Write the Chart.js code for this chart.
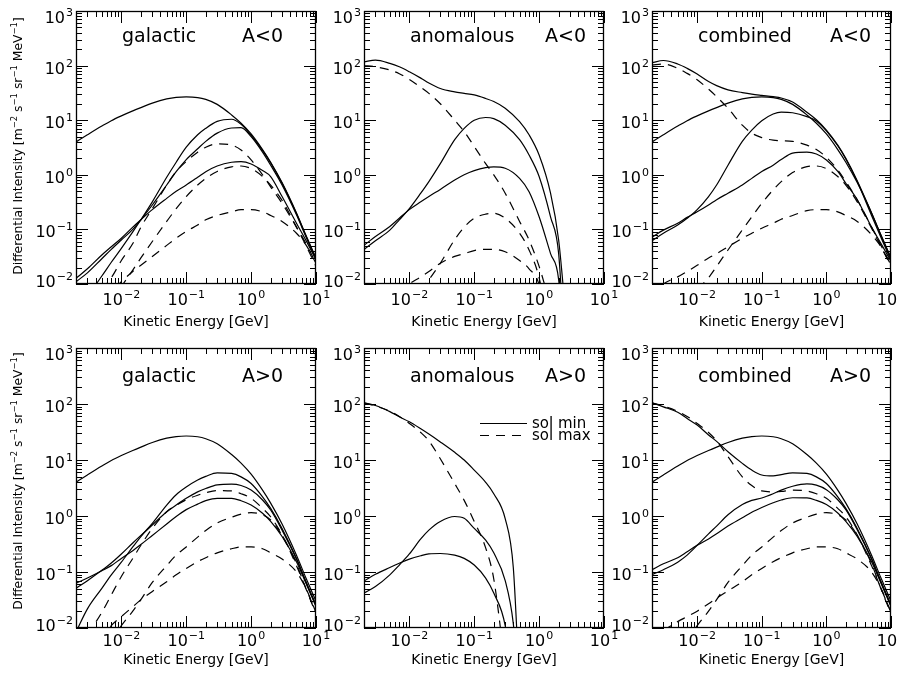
<!DOCTYPE html>
<html>
<head>
<meta charset="utf-8">
<script src="https://cdn.jsdelivr.net/npm/chart.js@4.4.0/dist/chart.umd.min.js"></script>
<style>
html, body { margin: 0; padding: 0; background: #ffffff; }
#wrap { position: relative; width: 897px; height: 673px; overflow: hidden; background: #ffffff; }
#wrap canvas { position: absolute; left: 0; top: 0; }
</style>
</head>
<body>
<div id="wrap"></div>
<script>
// ---------------- DATA ----------------
const _ = null;
// kinetic energy grid [GeV]
const energyGeV = [0.002, 0.003, 0.005, 0.007, 0.01, 0.015, 0.02, 0.03, 0.05, 0.07, 0.1, 0.15, 0.2, 0.3, 0.4, 0.5, 0.7, 1, 1.5, 2, 2.5, 3, 5, 7, 10];

// axis ranges and tick exponents
const energyAxisRange = [0.002, 10];
const intensityAxisRange = [0.01, 1000];
const energyTickExponents = [-2, -1, 0, 1];
const intensityTickExponents = [-2, -1, 0, 1, 2, 3];

// galactic local interstellar spectrum (solid, shown in galactic & combined panels)
const lisIntensity = [4.0, 5.4, 7.8, 9.8, 12, 14.8, 17, 20.5, 24.5, 26.2, 26.8, 26, 24, 19.5, _, 12.5, 8.8, 5.6, 2.9, 1.7, _, 0.72, 0.2, 0.078, 0.03];

// galactic, A<0
const galNegMin1 = [0.0035, 0.006, 0.014, 0.025, 0.045, 0.09, 0.15, 0.32, 0.9, 1.7, 3.2, 5.4, 7.1, 9.5, _, 10.4, 8.4, 5.3, 2.8, 1.65, _, 0.7, 0.195, 0.076, 0.029];
const galNegMin2 = [0.011, 0.016, 0.029, 0.043, 0.064, 0.1, 0.15, 0.28, 0.65, 1.14, 1.9, 3.0, 4.1, 5.8, _, 7.2, 7.3, 5.0, 2.6, 1.5, _, 0.65, 0.185, 0.073, 0.028];
const galNegMin3 = [0.0127, 0.019, 0.034, 0.048, 0.069, 0.11, 0.15, 0.23, 0.37, 0.5, 0.65, 0.9, 1.14, 1.45, _, 1.7, 1.74, 1.58, 1.2, 0.93, _, 0.4, 0.13, 0.063, 0.028];
const galNegMax1 = [_, _, 0.008, 0.013, 0.027, 0.055, 0.11, 0.24, 0.65, 1.15, 1.75, 2.6, 3.2, 3.7, _, 3.5, 2.85, 1.87, 1.0, 0.6, _, 0.3, 0.11, 0.055, 0.024];
const galNegMax2 = [_, _, _, 0.005, 0.009, 0.018, 0.03, 0.06, 0.14, 0.24, 0.40, 0.65, 0.86, 1.15, _, 1.4, 1.45, 1.3, 0.93, 0.65, _, 0.34, 0.11, 0.051, 0.021];
const galNegMax3 = [_, _, 0.006, 0.0075, 0.011, 0.017, 0.022, 0.032, 0.051, 0.069, 0.092, 0.12, 0.15, 0.18, _, 0.21, 0.23, 0.23, 0.21, 0.18, _, 0.14, 0.085, 0.052, 0.024];

// anomalous, A<0
const anoNegMin0 = [117, 126, 110, 95, 77, 59, 48, 38, 33, 31, 29, 25, 22, 16.6, _, 9.4, 5.4, 2.3, 0.46, 0.064, 0.004, _, _, _, _];
const anoNegMin1 = [0.043, 0.062, 0.097, 0.15, 0.24, 0.46, 0.75, 1.6, 4.4, 7.1, 10, 11.2, 10.7, 8.1, _, 4.4, 2.3, 0.93, 0.17, 0.036, 0.0005, _, _, _, _];
const anoNegMin2 = [0.051, 0.074, 0.113, 0.16, 0.23, 0.32, 0.40, 0.54, 0.80, 1.0, 1.19, 1.35, 1.4, 1.32, _, 0.86, 0.49, 0.17, 0.036, 0.012, 0.0003, _, _, _, _];
const anoNegMax0 = [100, 95, 83, 71, 56, 40, 31, 20, 10, 6.2, 3.3, 1.6, 1.0, 0.46, _, 0.14, 0.064, 0.021, 0.004, _, _, _, _, _, _];
const anoNegMax1 = [_, _, _, _, 0.0048, 0.0078, 0.012, 0.024, 0.065, 0.11, 0.16, 0.19, 0.197, 0.16, _, 0.085, 0.042, 0.013, 0.001, _, _, _, _, _, _];
const anoNegMax2 = [_, _, _, 0.0068, 0.01, 0.0135, 0.017, 0.024, 0.032, 0.036, 0.041, 0.043, 0.043, 0.039, _, 0.027, 0.019, 0.0095, 0.0005, _, _, _, _, _, _];

// combined, A<0
const comNegMin0 = [113, 124, 107, 89, 70, 51, 43, 36, 32, 30, 28.5, 27, 25.5, 21.5, _, 14, 10.2, 6.6, 3.5, 2.0, _, 0.78, 0.2, 0.078, 0.03];
const comNegMin1 = [0.062, 0.085, 0.12, 0.16, 0.23, 0.40, 0.65, 1.5, 4.1, 6.6, 9.8, 13, 14.1, 13.7, _, 11.6, 9.7, 6.4, 3.4, 1.95, _, 0.75, 0.18, 0.071, 0.027];
const comNegMin2 = [0.072, 0.097, 0.13, 0.166, 0.21, 0.28, 0.35, 0.46, 0.65, 0.86, 1.15, 1.5, 1.9, 2.5, _, 2.6, 2.4, 1.87, 1.15, 0.7, _, 0.35, 0.11, 0.055, 0.026];
const comNegMax0 = [102, 107, 89, 72, 55, 37, 27, 16.5, 8.1, 5.8, 4.8, 4.3, 4.2, 4.1, _, 3.5, 2.9, 2.1, 1.22, 0.75, _, 0.35, 0.11, 0.051, 0.022];
const comNegMax1 = [_, _, _, 0.005, 0.008, 0.013, 0.021, 0.042, 0.098, 0.17, 0.30, 0.53, 0.75, 1.1, _, 1.41, 1.45, 1.3, 0.93, 0.65, _, 0.32, 0.105, 0.048, 0.021];
const comNegMax2 = [0.006, 0.01, 0.0135, 0.017, 0.022, 0.030, 0.036, 0.048, 0.069, 0.085, 0.105, 0.13, 0.153, 0.18, _, 0.22, 0.23, 0.23, 0.21, 0.18, _, 0.14, 0.08, 0.048, 0.022];

// galactic, A>0
const galPosMin1 = [0.0085, 0.022, 0.051, 0.089, 0.15, 0.28, 0.43, 0.74, 1.57, 2.4, 3.3, 4.4, 5.1, 5.9, _, 5.75, 5.0, 3.8, 2.2, 1.37, _, 0.6, 0.175, 0.067, 0.026];
const galPosMin2 = [0.051, 0.07, 0.107, 0.145, 0.21, 0.33, 0.45, 0.69, 1.19, 1.57, 2.07, 2.7, 3.1, 3.6, _, 3.7, 3.5, 2.9, 1.93, 1.28, _, 0.56, 0.17, 0.066, 0.025];
const galPosMin3 = [0.063, 0.078, 0.105, 0.13, 0.175, 0.24, 0.31, 0.45, 0.72, 0.98, 1.3, 1.63, 1.88, 2.07, _, 2.07, 1.87, 1.57, 1.12, 0.8, _, 0.43, 0.153, 0.063, 0.024];
const galPosMax1 = [_, 0.0075, 0.019, 0.039, 0.083, 0.175, 0.30, 0.6, 1.19, 1.55, 1.95, 2.35, 2.6, 2.85, _, 2.8, 2.5, 2.07, 1.37, 0.97, _, 0.46, 0.13, 0.051, 0.019];
const galPosMax2 = [_, _, _, 0.006, 0.011, 0.02, 0.032, 0.065, 0.13, 0.2, 0.28, 0.42, 0.55, 0.75, _, 0.95, 1.08, 1.15, 1.05, 0.85, _, 0.45, 0.14, 0.05, 0.018];
const galPosMax3 = [_, _, 0.006, 0.011, 0.016, 0.024, 0.032, 0.045, 0.067, 0.089, 0.116, 0.153, 0.18, 0.22, _, 0.26, 0.28, 0.28, 0.26, 0.22, _, 0.17, 0.10, 0.051, 0.019];

// anomalous, A>0
const anoPosMin0 = [105, 94, 73, 59, 48, 36, 29, 21, 13.7, 10, 6.6, 4.0, 2.5, 0.9, 0.12, 0.0008, _, _, _, _, _, _, _, _, _];
const anoPosMin1 = [0.042, 0.055, 0.089, 0.133, 0.21, 0.39, 0.56, 0.8, 0.98, 0.91, 0.6, 0.37, 0.22, 0.07, 0.012, 0.0005, _, _, _, _, _, _, _, _, _];
const anoPosMin2 = [0.069, 0.091, 0.12, 0.143, 0.17, 0.195, 0.21, 0.214, 0.2, 0.175, 0.133, 0.078, 0.042, 0.011, 0.0008, _, _, _, _, _, _, _, _, _, _];
const anoPosMax0 = [105, 92, 74, 60, 45, 31, 22, 10.5, 3.8, 1.9, 0.8, 0.27, 0.075, 0.002, _, _, _, _, _, _, _, _, _, _, _];

// combined, A>0
const comPosMin0 = [105, 89, 71, 55, 42, 28, 21.5, 14, 8.7, 6.6, 5.4, 5.2, 5.5, 5.9, _, 5.75, 5.0, 3.8, 2.2, 1.37, _, 0.6, 0.175, 0.067, 0.026];
const comPosMin1 = [0.09, 0.11, 0.15, 0.2, 0.3, 0.48, 0.66, 1.05, 1.6, 1.9, 2.1, 2.5, 2.9, 3.4, _, 3.75, 3.55, 2.95, 1.95, 1.3, _, 0.57, 0.17, 0.066, 0.025];
const comPosMin2 = [0.11, 0.14, 0.18, 0.23, 0.3, 0.39, 0.48, 0.66, 0.93, 1.17, 1.42, 1.72, 1.93, 2.12, _, 2.1, 1.9, 1.6, 1.13, 0.8, _, 0.43, 0.153, 0.063, 0.024];
const comPosMax0 = [105, 92, 74, 60, 45, 31, 22, 11.5, 5.0, 3.5, 2.8, 2.7, 2.75, 2.9, _, 2.8, 2.5, 2.07, 1.37, 0.97, _, 0.46, 0.13, 0.051, 0.019];
const comPosMax1 = [_, _, _, 0.006, 0.011, 0.02, 0.032, 0.065, 0.13, 0.2, 0.28, 0.42, 0.55, 0.75, _, 0.95, 1.08, 1.15, 1.05, 0.85, _, 0.45, 0.14, 0.05, 0.018];
const comPosMax2 = [_, 0.009, 0.013, 0.016, 0.02, 0.027, 0.034, 0.046, 0.067, 0.089, 0.116, 0.153, 0.18, 0.22, _, 0.26, 0.28, 0.28, 0.26, 0.22, _, 0.17, 0.10, 0.051, 0.019];

// texts
const panelNames = ['galactic', 'anomalous', 'combined', 'galactic', 'anomalous', 'combined'];
const cycleNames = ['A<0', 'A<0', 'A<0', 'A>0', 'A>0', 'A>0'];
const legendLabels = ['sol min', 'sol max'];
const xAxisTitle = 'Kinetic Energy [GeV]';
const yAxisTitleParts = [['Differential Intensity [m', 0], ['\u22122', 1], [' s', 0], ['\u22121', 1], [' sr', 0], ['\u22121', 1], [' MeV', 0], ['\u22121', 1], [']', 0]];

// ---------------- LAYOUT ----------------
const W = 897, H = 673;
const FONT = '"DejaVu Sans", "Liberation Sans", sans-serif';
const rowLayout = [
  { titleBase: 42, xLabelBase: 305, xTitleBase: 326, yTitleCenter: 146 },
  { titleBase: 382, xLabelBase: 646, xTitleBase: 664, yTitleCenter: 481 }
];
const panelLayout = [
  { frame: [76, 11, 316, 284], row: 0, cycleX: 166, yTitle: true },
  { frame: [364, 11, 604, 284], row: 0, cycleX: 181, yTitle: false },
  { frame: [652, 11, 891, 284], row: 0, cycleX: 178, yTitle: false },
  { frame: [76, 348, 316, 628], row: 1, cycleX: 166, yTitle: true },
  { frame: [364, 348, 604, 628], row: 1, cycleX: 181, yTitle: false, legend: true },
  { frame: [652, 348, 891, 628], row: 1, cycleX: 178, yTitle: false }
];
const panelSeries = [
  { solid: [lisIntensity, galNegMin1, galNegMin2, galNegMin3], dashed: [galNegMax1, galNegMax2, galNegMax3] },
  { solid: [anoNegMin0, anoNegMin1, anoNegMin2], dashed: [anoNegMax0, anoNegMax1, anoNegMax2] },
  { solid: [comNegMin0, lisIntensity, comNegMin1, comNegMin2], dashed: [comNegMax0, comNegMax1, comNegMax2] },
  { solid: [lisIntensity, galPosMin1, galPosMin2, galPosMin3], dashed: [galPosMax1, galPosMax2, galPosMax3] },
  { solid: [anoPosMin0, anoPosMin1, anoPosMin2], dashed: [anoPosMax0] },
  { solid: [comPosMin0, lisIntensity, comPosMin1, comPosMin2], dashed: [comPosMax0, comPosMax1, comPosMax2] }
];
const DASH = [9, 7];

// ---------------- DRAW HELPERS ----------------
function powLabel(ctx, exp, x, baseline, align) {
  const base = '10';
  const sup = exp < 0 ? '\u2212' + (-exp) : String(exp);
  ctx.font = '16px ' + FONT;
  const wb = ctx.measureText(base).width;
  ctx.font = '11px ' + FONT;
  const ws = ctx.measureText(sup).width;
  const total = wb + 1 + ws;
  const x0 = align === 'center' ? x - total / 2 : (align === 'right' ? x - total : x);
  ctx.textAlign = 'left';
  ctx.textBaseline = 'alphabetic';
  ctx.font = '16px ' + FONT;
  ctx.fillText(base, x0, baseline);
  ctx.font = '11px ' + FONT;
  ctx.fillText(sup, x0 + wb + 1, baseline - 7);
}

function richText(ctx, parts, cx, baseline, size, supSize, raise) {
  let total = 0;
  const widths = parts.map(([t, s]) => {
    ctx.font = (s ? supSize : size) + 'px ' + FONT;
    const w = ctx.measureText(t).width;
    total += w;
    return w;
  });
  let x = cx - total / 2;
  ctx.textAlign = 'left';
  ctx.textBaseline = 'alphabetic';
  parts.forEach(([t, s], i) => {
    ctx.font = (s ? supSize : size) + 'px ' + FONT;
    ctx.fillText(t, x, s ? baseline - raise : baseline);
    x += widths[i];
  });
}

function makeAxesPlugin(idx) {
  const lay = panelLayout[idx];
  const row = rowLayout[lay.row];
  return {
    id: 'idlAxes' + idx,
    afterDraw(chart) {
      const { ctx, chartArea: a } = chart;
      const xs = chart.scales.x, ys = chart.scales.y;
      ctx.save();
      ctx.strokeStyle = '#000';
      ctx.fillStyle = '#000';
      // frame
      ctx.lineWidth = 1.3;
      ctx.strokeRect(a.left + 0.5, a.top + 0.5, a.right - a.left - 1, a.bottom - a.top - 1);
      // ticks
      ctx.lineWidth = 1;
      ctx.beginPath();
      const xLo = Math.floor(Math.log10(energyAxisRange[0])), xHi = Math.ceil(Math.log10(energyAxisRange[1]));
      for (let n = xLo; n <= xHi; n++) {
        for (let k = 1; k <= 9; k++) {
          const v = k * Math.pow(10, n);
          if (v < energyAxisRange[0] * 0.9999 || v > energyAxisRange[1] * 1.0001) continue;
          const px = Math.round(xs.getPixelForValue(v)) + 0.5;
          const len = k === 1 ? 12 : 6;
          ctx.moveTo(px, a.bottom); ctx.lineTo(px, a.bottom - len);
          ctx.moveTo(px, a.top); ctx.lineTo(px, a.top + len);
        }
      }
      const yLo = Math.floor(Math.log10(intensityAxisRange[0])), yHi = Math.ceil(Math.log10(intensityAxisRange[1]));
      for (let n = yLo; n <= yHi; n++) {
        for (let k = 1; k <= 9; k++) {
          const v = k * Math.pow(10, n);
          if (v < intensityAxisRange[0] * 0.9999 || v > intensityAxisRange[1] * 1.0001) continue;
          const py = Math.round(ys.getPixelForValue(v)) + 0.5;
          const len = k === 1 ? 12 : 6;
          ctx.moveTo(a.left, py); ctx.lineTo(a.left + len, py);
          ctx.moveTo(a.right, py); ctx.lineTo(a.right - len, py);
        }
      }
      ctx.stroke();
      // tick labels
      energyTickExponents.forEach(e => {
        const px = xs.getPixelForValue(Math.pow(10, e));
        powLabel(ctx, e, px, row.xLabelBase, 'center');
      });
      intensityTickExponents.forEach(e => {
        const py = ys.getPixelForValue(Math.pow(10, e));
        let base = py + 8;
        base = Math.max(a.top + 12, Math.min(a.bottom + 3, base));
        powLabel(ctx, e, a.left - 3, base, 'right');
      });
      // panel titles
      ctx.font = '19px ' + FONT;
      ctx.textAlign = 'left';
      ctx.textBaseline = 'alphabetic';
      ctx.fillText(panelNames[idx], a.left + 46, row.titleBase);
      ctx.fillText(cycleNames[idx], a.left + lay.cycleX, row.titleBase);
      // x axis title
      ctx.font = '14px ' + FONT;
      ctx.textAlign = 'center';
      ctx.fillText(xAxisTitle, (a.left + a.right) / 2, row.xTitleBase);
      // y axis title
      if (lay.yTitle) {
        ctx.save();
        ctx.translate(22, row.yTitleCenter);
        ctx.rotate(-Math.PI / 2);
        richText(ctx, yAxisTitleParts, 0, 0, 12.3, 8.5, 5);
        ctx.restore();
      }
      // legend
      if (lay.legend) {
        ctx.lineWidth = 1.2;
        ctx.beginPath();
        ctx.moveTo(480, 423.5); ctx.lineTo(527, 423.5);
        ctx.stroke();
        ctx.setLineDash(DASH);
        ctx.beginPath();
        ctx.moveTo(480, 435.5); ctx.lineTo(527, 435.5);
        ctx.stroke();
        ctx.setLineDash([]);
        ctx.font = '15px ' + FONT;
        ctx.textAlign = 'left';
        ctx.fillText(legendLabels[0], 532, 428);
        ctx.fillText(legendLabels[1], 532, 440);
      }
      ctx.restore();
    }
  };
}

function toPoints(values) {
  const pts = [];
  energyGeV.forEach((e, i) => { if (values[i] !== null && values[i] !== undefined) pts.push({ x: e, y: values[i] }); });
  return pts;
}

// ---------------- BUILD CHARTS ----------------
const wrap = document.getElementById('wrap');
panelLayout.forEach((lay, idx) => {
  const c = document.createElement('canvas');
  c.width = W; c.height = H;
  c.style.width = W + 'px'; c.style.height = H + 'px';
  wrap.appendChild(c);
  const [L, T, R, B] = lay.frame;
  const ser = panelSeries[idx];
  const datasets = [];
  ser.solid.forEach(vals => datasets.push({
    label: legendLabels[0], data: toPoints(vals), borderColor: '#000', borderWidth: 1.2,
    pointRadius: 0, fill: false, cubicInterpolationMode: 'monotone', clip: 0
  }));
  ser.dashed.forEach(vals => datasets.push({
    label: legendLabels[1], data: toPoints(vals), borderColor: '#000', borderWidth: 1.2, borderDash: DASH,
    pointRadius: 0, fill: false, cubicInterpolationMode: 'monotone', clip: 0
  }));
  new Chart(c, {
    type: 'line',
    data: { datasets },
    options: {
      responsive: false,
      maintainAspectRatio: false,
      animation: false,
      devicePixelRatio: 1,
      events: [],
      layout: { padding: { left: L, top: T, right: W - R, bottom: H - B } },
      scales: {
        x: { type: 'logarithmic', min: energyAxisRange[0], max: energyAxisRange[1], display: false },
        y: { type: 'logarithmic', min: intensityAxisRange[0], max: intensityAxisRange[1], display: false }
      },
      plugins: { legend: { display: false }, tooltip: { enabled: false }, title: { display: false } }
    },
    plugins: [makeAxesPlugin(idx)]
  });
});
</script>
</body>
</html>
